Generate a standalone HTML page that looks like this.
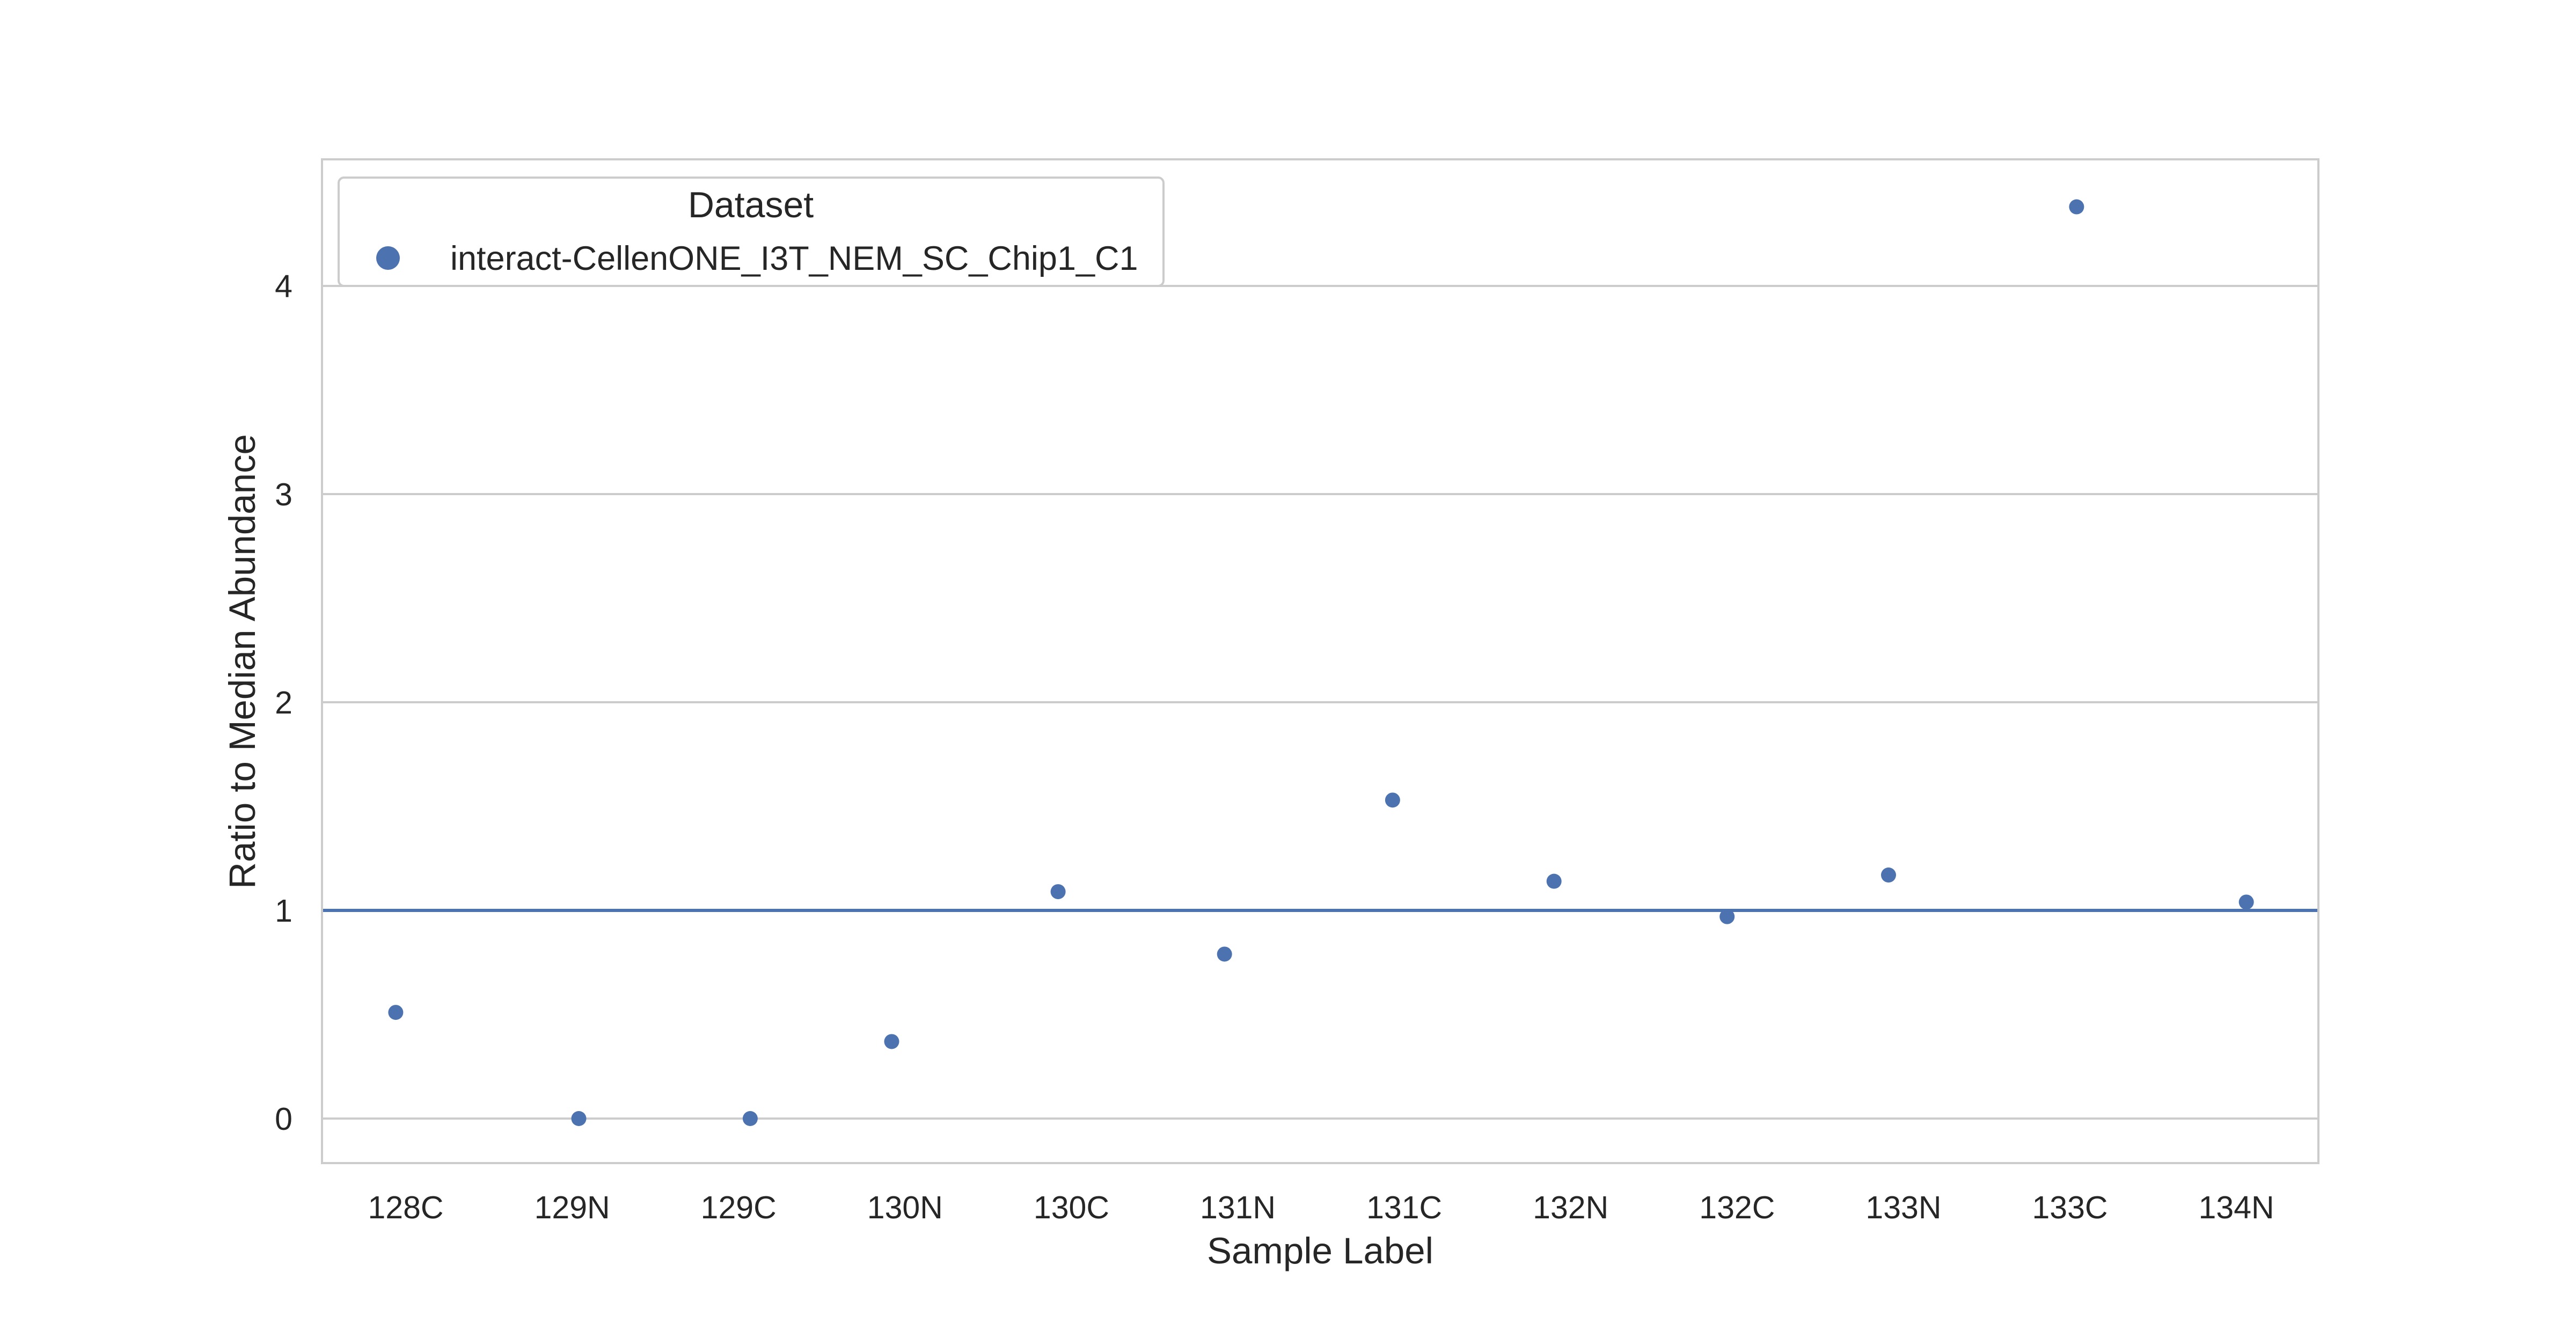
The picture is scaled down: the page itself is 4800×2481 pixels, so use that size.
<!DOCTYPE html>
<html><head><meta charset="utf-8">
<style>html,body{margin:0;padding:0;background:#fff}svg{display:block;font-family:"Liberation Sans",Arial,sans-serif}</style>
</head><body>
<svg id="chart" width="4800" height="2481" viewBox="0 0 4800 2481">
<rect width="4800" height="2481" fill="#fff"/>
<g id="grid"></g>
<g id="marks"></g>
<rect x="600" y="297" width="3720" height="1871" fill="none" stroke="#cccccc" stroke-width="4"/>
<g id="xticks"></g><g id="yticks"></g>
<text x="2460" y="2355" font-size="69" text-anchor="middle" fill="#262626">Sample Label</text>
<text transform="translate(475,1233) rotate(-90)" font-size="69" text-anchor="middle" fill="#262626">Ratio to Median Abundance</text>
<g>
<rect x="631" y="331" width="1537" height="202" rx="10" fill="#fff" fill-opacity="0.8" stroke="#cccccc" stroke-width="4"/>
<text x="1399" y="405" font-size="68" text-anchor="middle" fill="#262626">Dataset</text>
<circle cx="723" cy="481" r="22" fill="#4c72b0"/>
<text x="839" y="503" font-size="63" fill="#262626">interact-CellenONE_I3T_NEM_SC_Chip1_C1</text>
</g>
</svg>
<script>
const categories=["128C","129N","129C","130N","130C","131N","131C","132N","132C","133N","133C","134N"];
const values=[0.51,0,0,0.37,1.09,0.79,1.53,1.14,0.97,1.17,4.38,1.04];
const jitter=[-0.06,0.04,0.07,-0.08,-0.08,-0.08,-0.07,-0.1,-0.06,-0.09,0.04,0.06];
const yTicks=[0,1,2,3,4];
const refValue=1;
const NS="http://www.w3.org/2000/svg";
function xScale(i){return 756+i*310.1;}
function yScale(v){return 2085-v*388;}
function mk(tag,attrs,parent){const e=document.createElementNS(NS,tag);for(const k in attrs)e.setAttribute(k,attrs[k]);document.getElementById(parent).appendChild(e);return e;}
yTicks.forEach(t=>{
 const l=mk('line',{x1:600,x2:4320,y1:yScale(t),y2:yScale(t),stroke:'#cccccc','stroke-width':4},'grid');
 
 
 const tx=mk('text',{x:545,y:yScale(t)+21,'font-size':59,'text-anchor':'end',fill:'#262626'},'yticks');
 tx.textContent=t;
 
 
});
categories.forEach((c,i)=>{
 const tx=mk('text',{x:xScale(i),y:2271,'font-size':59,'text-anchor':'middle',fill:'#262626'},'xticks');
 tx.textContent=c;
 
 
});
const ref=mk('line',{x1:600,x2:4320,y1:yScale(refValue),y2:yScale(refValue),stroke:'#4c72b0','stroke-width':6},'marks');


values.forEach((v,i)=>{
 const p=mk('circle',{cx:xScale(i+jitter[i]),cy:yScale(v),r:14,fill:'#4c72b0'},'marks');
 
 
});
</script>
</body></html>
